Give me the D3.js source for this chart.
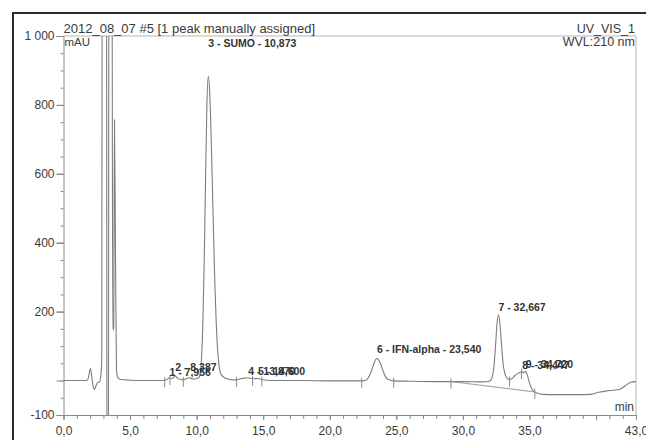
<!DOCTYPE html>
<html>
<head>
<meta charset="utf-8">
<script src="https://cdn.jsdelivr.net/npm/d3@7"></script>
<style>
  html, body { margin: 0; padding: 0; background: #ffffff; }
  svg { display: block; font-family: "Liberation Sans", Arial, sans-serif; }
</style>
</head>
<body>
<svg id="chart" width="646" height="440"></svg>
<script>
// UV trace (retention time in min, absorbance in mAU)
const traceTime = [
  0.0, 1.0, 1.7, 1.85, 1.95, 2.02, 2.1, 2.2, 2.32, 2.42, 2.55, 2.7, 2.78, 2.83, 2.87,
  2.91, 3.23, 3.27, 3.38, 3.41, 3.64, 3.70, 3.77, 3.83, 3.90, 3.98, 4.08, 4.3, 5.0, 6.0,
  7.0, 7.6, 7.8, 7.95, 8.1, 8.25, 8.39, 8.55, 8.8, 9.0, 9.2, 9.4, 9.6, 9.8, 10.0,
  10.17, 10.27, 10.37, 10.47, 10.57, 10.67, 10.77, 10.873, 10.97, 11.07, 11.17, 11.27,
  11.37, 11.47, 11.57, 11.67, 11.77, 11.9, 12.1, 12.4, 12.8, 13.0, 13.3, 13.6, 13.87,
  14.1, 14.3, 14.6, 14.9, 15.3, 16.0, 18.0, 20.0, 22.0, 22.5, 22.7, 22.9, 23.1, 23.3,
  23.45, 23.54, 23.65, 23.8, 24.0, 24.2, 24.45, 24.8, 26.0, 28.0, 30.0, 31.5, 32.0,
  32.15, 32.3, 32.45, 32.55, 32.667, 32.78, 32.9, 33.0, 33.15, 33.3, 33.5, 33.7, 33.9,
  34.1, 34.3, 34.447, 34.58, 34.72, 34.82, 34.95, 35.1, 35.3, 35.6, 36.0, 37.0, 38.5,
  39.6, 40.2, 40.8, 41.3, 41.8, 42.2, 42.6, 43.0
];
const traceMAU = [
  0, 0, 0, 5, 25, 35, 18, -12, -26, -18, -6, -4, 8, 25, 60,
  1300, 1300, -300, -300, 1300, 1300, 148, 150, 757, 400, 30, 8, 3, 1, 0,
  0, 1, 4, 8, 6, 8, 13, 7, 3, 2, 5, 8, 6, 4, 6,
  8, 21, 67, 169, 349, 585, 797, 884, 845, 736, 585, 424,
  280, 169, 93, 47, 24, 15, 8, 4, 2, 2, 5, 7, 8,
  6, 5, 6, 3, 1, 0, 0, -1, -1, -1, 1, 8, 25, 48,
  61, 64, 61, 50, 28, 10, 2, -1, -2, -3, -3, -4, -2,
  5, 30, 100, 160, 191, 165, 105, 55, 20, 8, 3, 6, 14,
  20, 24, 26, 22, 27, 18, 0, -18, -30, -37, -40, -41, -41,
  -40, -34, -30, -28, -25, -15, -5, -3
];

// Identified peaks
const peakNumber = [1, 2, 3, 4, 5, 6, 7, 8, 9];
const peakName   = ["", "", "SUMO", "", "", "IFN-alpha", "", "", ""];
const peakTime   = [7.956, 8.387, 10.873, 13.870, 14.600, 23.540, 32.667, 34.447, 34.720];
const peakHeight = [8, 13, 884, 8, 6, 64, 191, 26, 27];

// Peak start/end delimiters and the integration baseline under peaks 7-9
const delimiterTime = [7.6, 8.0, 9.0, 13.0, 14.2, 14.9, 22.4, 24.8, 29.1, 33.5, 34.4, 35.4];
const baselineTime = [29.1, 35.4];
const baselineMAU  = [-3, -33];

// Axis ticks
const yMajorTicks = [-100, 0, 200, 400, 600, 800, 1000];
const yLabelTicks = [-100, 200, 400, 600, 800, 1000];
const xMajorTicks = [0, 5, 10, 15, 20, 25, 30, 35, 40, 43];
const xLabelTicks = [0, 5, 10, 15, 20, 25, 30, 35, 43];

const svg = d3.select("#chart");
const plot = { left: 63.5, right: 636, top: 36, bottom: 415 };

const x = d3.scaleLinear().domain([0, 43]).range([plot.left, plot.right]);
const y = d3.scaleLinear().domain([-100, 1000]).range([plot.bottom, plot.top]);

const axisColor = "#8a8a8a";
const textColor = "#3a3a3a";
const font = "'Liberation Sans', Arial, sans-serif";

// outer window frame
svg.append("path")
  .attr("d", "M13,460 L13,13 L660,13")
  .attr("fill", "none").attr("stroke", "#2b2b2b").attr("stroke-width", 2);

// plot box (top and right edges)
svg.append("path")
  .attr("d", `M${plot.left},${plot.top} L${plot.right},${plot.top} L${plot.right},${plot.bottom}`)
  .attr("fill", "none").attr("stroke", "#b5b5b5").attr("stroke-width", 1);

// Y axis: minor, major, labels
const yAxisG = svg.append("g").attr("transform", `translate(${plot.left},0)`);
yAxisG.append("g")
  .call(d3.axisLeft(y).tickValues(d3.range(-100, 1001, 50)).tickSize(3).tickFormat(""))
  .call(g => g.select(".domain").remove());
yAxisG.append("g")
  .call(d3.axisLeft(y).tickValues(yMajorTicks).tickSize(7).tickFormat(""))
  .call(g => g.select(".domain").attr("stroke", axisColor));
yAxisG.append("g")
  .call(d3.axisLeft(y).tickValues(yLabelTicks).tickSize(7).tickPadding(2)
    .tickFormat(v => d3.format(",")(v).replace(",", " ").replace("\u2212", "-")))
  .call(g => g.select(".domain").remove());
yAxisG.selectAll("line").attr("stroke", axisColor);
yAxisG.selectAll("text").attr("fill", textColor).attr("font-size", 12)
  .attr("font-family", font);

// X axis
const xAxisG = svg.append("g").attr("transform", `translate(0,${plot.bottom})`);
xAxisG.append("g")
  .call(d3.axisBottom(x).tickValues(d3.range(0, 44, 1)).tickSize(4).tickFormat(""))
  .call(g => g.select(".domain").attr("stroke", axisColor));
xAxisG.append("g")
  .call(d3.axisBottom(x).tickValues(xMajorTicks).tickSize(5).tickFormat(""))
  .call(g => g.select(".domain").remove());
xAxisG.append("g")
  .call(d3.axisBottom(x).tickValues(xLabelTicks).tickSize(0).tickPadding(11)
    .tickFormat(v => d3.format(".1f")(v).replace(".", ",")))
  .call(g => g.select(".domain").remove());
xAxisG.selectAll("line").attr("stroke", axisColor);
xAxisG.selectAll("text").attr("fill", textColor).attr("font-size", 12)
  .attr("font-family", font);

// header and unit texts
const txt = (s, tx, ty, anchor, size) => svg.append("text")
  .attr("x", tx).attr("y", ty).attr("text-anchor", anchor)
  .attr("font-size", size).attr("fill", textColor).text(s);
txt("2012_08_07 #5 [1 peak manually assigned]", plot.left, 33, "start", 13);
txt("mAU", plot.left + 1, 46, "start", 11.5);
txt("UV_VIS_1", plot.right - 1, 33, "end", 12.5);
txt("WVL:210 nm", plot.right - 1, 46, "end", 12.5);
txt("min", plot.right - 2, 411, "end", 12);

// clip the trace to the plot box
svg.append("clipPath").attr("id", "plotClip")
  .append("rect")
  .attr("x", plot.left).attr("y", plot.top)
  .attr("width", plot.right - plot.left).attr("height", plot.bottom - plot.top);

const tracePoints = traceTime.map((t, i) => [t, traceMAU[i]]);
const line = d3.line().x(d => x(d[0])).y(d => y(d[1])).curve(d3.curveMonotoneX);

const traceG = svg.append("g").attr("clip-path", "url(#plotClip)");
traceG.append("path")
  .datum(tracePoints)
  .attr("d", line)
  .attr("fill", "none")
  .attr("stroke", "#7d7d7d")
  .attr("stroke-width", 1.1);

// integration baseline
traceG.append("line")
  .attr("x1", x(baselineTime[0])).attr("y1", y(baselineMAU[0]))
  .attr("x2", x(baselineTime[1])).attr("y2", y(baselineMAU[1]))
  .attr("stroke", "#9a9a9a").attr("stroke-width", 1);

// peak delimiters, placed on the trace
const traceAt = t => {
  const i = d3.bisectLeft(traceTime, t);
  if (i <= 0) return traceMAU[0];
  const t0 = traceTime[i - 1], t1 = traceTime[i];
  const f = (t - t0) / (t1 - t0);
  return traceMAU[i - 1] + f * (traceMAU[i] - traceMAU[i - 1]);
};
traceG.selectAll("line.delim")
  .data(delimiterTime)
  .join("line")
  .attr("class", "delim")
  .attr("x1", d => x(d)).attr("x2", d => x(d))
  .attr("y1", d => y(traceAt(d)) - 3)
  .attr("y2", d => y(traceAt(d)) + 7)
  .attr("stroke", "#8a8a8a").attr("stroke-width", 1);

// peak labels
const labelLift = [2, 5, 29, 3, 3, 5, 4, 3, 3];
const fmtTime = t => d3.format(".3f")(t).replace(".", ",");
svg.append("g")
  .selectAll("text")
  .data(peakNumber)
  .join("text")
  .attr("x", (d, i) => x(peakTime[i]))
  .attr("y", (d, i) => y(peakHeight[i]) - labelLift[i])
  .attr("font-size", 10.5)
  .attr("font-weight", "bold")
  .attr("fill", "#333")
  .text((d, i) => peakName[i]
    ? `${d} - ${peakName[i]} - ${fmtTime(peakTime[i])}`
    : `${d} - ${fmtTime(peakTime[i])}`);
</script>
</body>
</html>
